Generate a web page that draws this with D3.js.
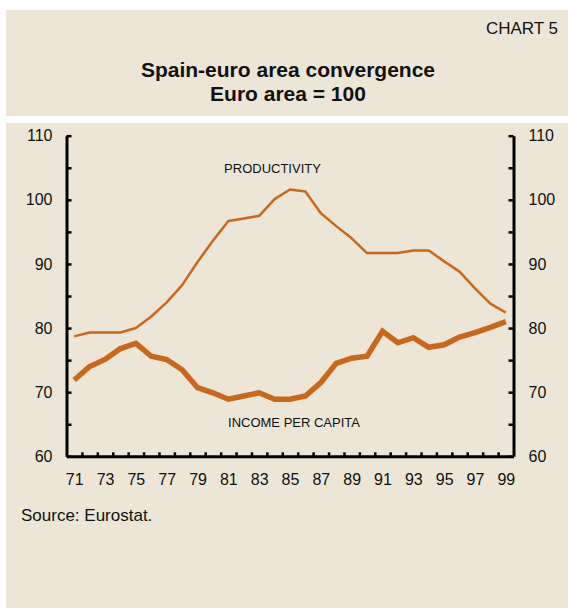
<!DOCTYPE html>
<html>
<head>
<meta charset="utf-8">
<script src="https://cdn.jsdelivr.net/npm/d3@7"></script>
<style>
  body { margin: 0; background: #fff; }
  svg text { font-family: "Liberation Sans", Arial, sans-serif; fill: #111; }
</style>
</head>
<body>
<div id="chart"></div>
<script>
const years = [71, 72, 73, 74, 75, 76, 77, 78, 79, 80, 81, 82, 83, 84, 85,
  86, 87, 88, 89, 90, 91, 92, 93, 94, 95, 96, 97, 98, 99];
const productivity = [78.7, 79.3, 79.3, 79.3, 80.0, 81.8, 84.0, 86.7, 90.3, 93.6,
  96.7, 97.1, 97.5, 100.1, 101.6, 101.3, 97.9, 95.9, 94.0, 91.7,
  91.7, 91.7, 92.1, 92.1, 90.4, 88.8, 86.2, 83.8, 82.4];
const income = [71.9, 74.0, 75.1, 76.8, 77.6, 75.6, 75.1, 73.5, 70.7, 69.9,
  68.9, 69.4, 69.9, 68.9, 68.9, 69.4, 71.5, 74.5, 75.3, 75.6,
  79.5, 77.7, 78.5, 77.0, 77.4, 78.6, 79.3, 80.1, 81.0];
const yTicks = [60, 65, 70, 75, 80, 85, 90, 95, 100, 105, 110];
const xLabels = [71, 73, 75, 77, 79, 81, 83, 85, 87, 89, 91, 93, 95, 97, 99];

const width = 568;
const height = 608;
const panel = "#EDE6D7";
const lineColor = "#C8681E";

const svg = d3.select("#chart")
  .append("svg")
  .attr("width", width)
  .attr("height", height);

// background panels
svg.append("rect").attr("x", 6).attr("y", 10).attr("width", 562).attr("height", 106).attr("fill", panel);
svg.append("rect").attr("x", 6).attr("y", 123).attr("width", 562).attr("height", 485).attr("fill", panel);

svg.append("text")
  .attr("x", 558).attr("y", 34)
  .attr("text-anchor", "end")
  .style("font-size", "17px")
  .text("CHART 5");

svg.append("text")
  .attr("x", 288).attr("y", 77)
  .attr("text-anchor", "middle")
  .style("font-size", "21px").style("font-weight", "bold")
  .text("Spain-euro area convergence");

svg.append("text")
  .attr("x", 288).attr("y", 101)
  .attr("text-anchor", "middle")
  .style("font-size", "21px").style("font-weight", "bold")
  .text("Euro area = 100");

const plot = { left: 66.5, right: 513.5, top: 135.7, bottom: 456.3 };

const x = d3.scaleLinear().domain([70.5, 99.5]).range([plot.left, plot.right]);
const y = d3.scaleLinear().domain([60, 110]).range([plot.bottom, plot.top]);

// x axis: inner ticks at year boundaries
const boundaries = years.slice(0, -1).map(d => d + 0.5);
svg.append("g")
  .attr("class", "axis")
  .attr("transform", `translate(0,${plot.bottom})`)
  .call(d3.axisTop(x).tickValues(boundaries).tickSize(4).tickSizeOuter(0).tickFormat(""));

svg.append("g")
  .attr("class", "axis labels")
  .attr("transform", `translate(0,${plot.bottom})`)
  .call(d3.axisBottom(x).tickValues(xLabels).tickSize(0).tickPadding(17).tickFormat(d => d))
  .call(g => g.select(".domain").remove());

svg.append("g")
  .attr("class", "axis")
  .attr("transform", `translate(${plot.left},0)`)
  .call(d3.axisLeft(y).tickValues(yTicks).tickSize(-5).tickSizeOuter(0).tickPadding(14)
    .tickFormat(d => d % 10 === 0 ? d : ""));

svg.append("g")
  .attr("class", "axis")
  .attr("transform", `translate(${plot.right},0)`)
  .call(d3.axisRight(y).tickValues(yTicks).tickSize(-5).tickSizeOuter(0).tickPadding(15)
    .tickFormat(d => d % 10 === 0 ? d : ""));

svg.selectAll(".axis .domain").attr("stroke", "#000").attr("stroke-width", 3);
svg.selectAll(".axis line").attr("stroke", "#000").attr("stroke-width", 2.5);
svg.selectAll(".axis text").style("font-size", "16px").style("font-family", "'Liberation Sans', Arial, sans-serif").attr("fill", "#111");

const line = d3.line()
  .x((d, i) => x(years[i]))
  .y(d => y(d));

svg.append("path")
  .datum(productivity)
  .attr("d", line)
  .attr("fill", "none")
  .attr("stroke", lineColor)
  .attr("stroke-width", 2.5)
  .attr("stroke-linejoin", "round");

svg.append("path")
  .datum(income)
  .attr("d", line)
  .attr("fill", "none")
  .attr("stroke", lineColor)
  .attr("stroke-width", 5.5)
  .attr("stroke-linejoin", "miter");

svg.append("text")
  .attr("x", 272.5).attr("y", 173)
  .attr("text-anchor", "middle")
  .style("font-size", "13px")
  .text("PRODUCTIVITY");

svg.append("text")
  .attr("x", 294).attr("y", 427)
  .attr("text-anchor", "middle")
  .style("font-size", "13px")
  .text("INCOME PER CAPITA");

svg.append("text")
  .attr("x", 21).attr("y", 521)
  .style("font-size", "17px")
  .text("Source: Eurostat.");
</script>
</body>
</html>
